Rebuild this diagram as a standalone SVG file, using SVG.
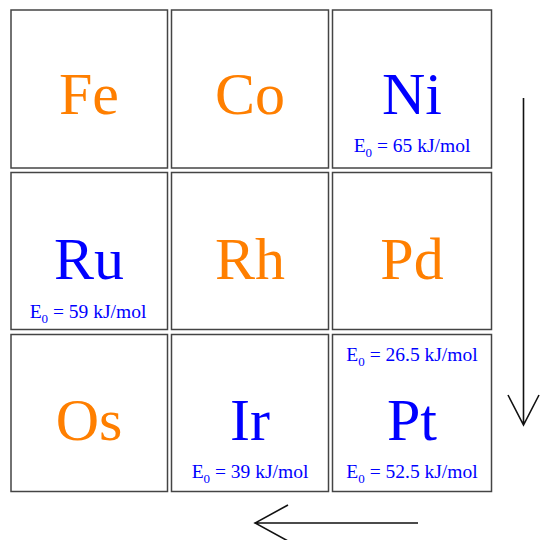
<svg xmlns="http://www.w3.org/2000/svg" width="543" height="540" viewBox="0 0 543 540">
<style>
.cell{fill:#fff;stroke:#444;stroke-width:1.5}
.sym{font-family:"Liberation Serif",serif;font-size:60px;text-anchor:middle}
.o{fill:#ff7f00}
.b{fill:#0000ff}
.e{font-family:"Liberation Serif",serif;font-size:19.5px;text-anchor:middle;fill:#0000ff}
.sub{font-size:13px}
.arr{fill:none;stroke:#111;stroke-width:1.6}
</style>
<rect width="543" height="540" fill="#fff"/>
<g id="Fe"><rect class="cell" x="11" y="10" width="156.5" height="158"/><text class="sym o" x="89" y="114">Fe</text></g>
<g id="Co"><rect class="cell" x="171.5" y="10" width="157" height="158"/><text class="sym o" x="250" y="114">Co</text></g>
<g id="Ni"><rect class="cell" x="332.5" y="10" width="159" height="158"/><text class="sym b" x="412" y="114">Ni</text><text class="e" x="412" y="152">E<tspan class="sub" dy="5">0</tspan><tspan dy="-5"> = 65 kJ/mol</tspan></text></g>
<g id="Ru"><rect class="cell" x="11" y="172.5" width="156.5" height="157"/><text class="sym b" x="89" y="279">Ru</text><text class="e" x="88" y="318">E<tspan class="sub" dy="5">0</tspan><tspan dy="-5"> = 59 kJ/mol</tspan></text></g>
<g id="Rh"><rect class="cell" x="171.5" y="172.5" width="157" height="157"/><text class="sym o" x="250" y="279">Rh</text></g>
<g id="Pd"><rect class="cell" x="332.5" y="172.5" width="159" height="157"/><text class="sym o" x="412" y="279">Pd</text></g>
<g id="Os"><rect class="cell" x="11" y="334.5" width="156.5" height="157"/><text class="sym o" x="89" y="440">Os</text></g>
<g id="Ir"><rect class="cell" x="171.5" y="334.5" width="157" height="157"/><text class="sym b" x="250" y="440">Ir</text><text class="e" x="250" y="478">E<tspan class="sub" dy="5">0</tspan><tspan dy="-5"> = 39 kJ/mol</tspan></text></g>
<g id="Pt"><rect class="cell" x="332.5" y="334.5" width="159" height="157"/><text class="sym b" x="412" y="440">Pt</text><text class="e" x="412" y="361">E<tspan class="sub" dy="5">0</tspan><tspan dy="-5"> = 26.5 kJ/mol</tspan></text><text class="e" x="412" y="478">E<tspan class="sub" dy="5">0</tspan><tspan dy="-5"> = 52.5 kJ/mol</tspan></text></g>
<g id="connectors">
<path class="arr" d="M523.5 98V425M508 395L523.5 425L539 395"/>
<path class="arr" d="M418 523H255M288 505L255 523L288 541"/>
</g>
</svg>
